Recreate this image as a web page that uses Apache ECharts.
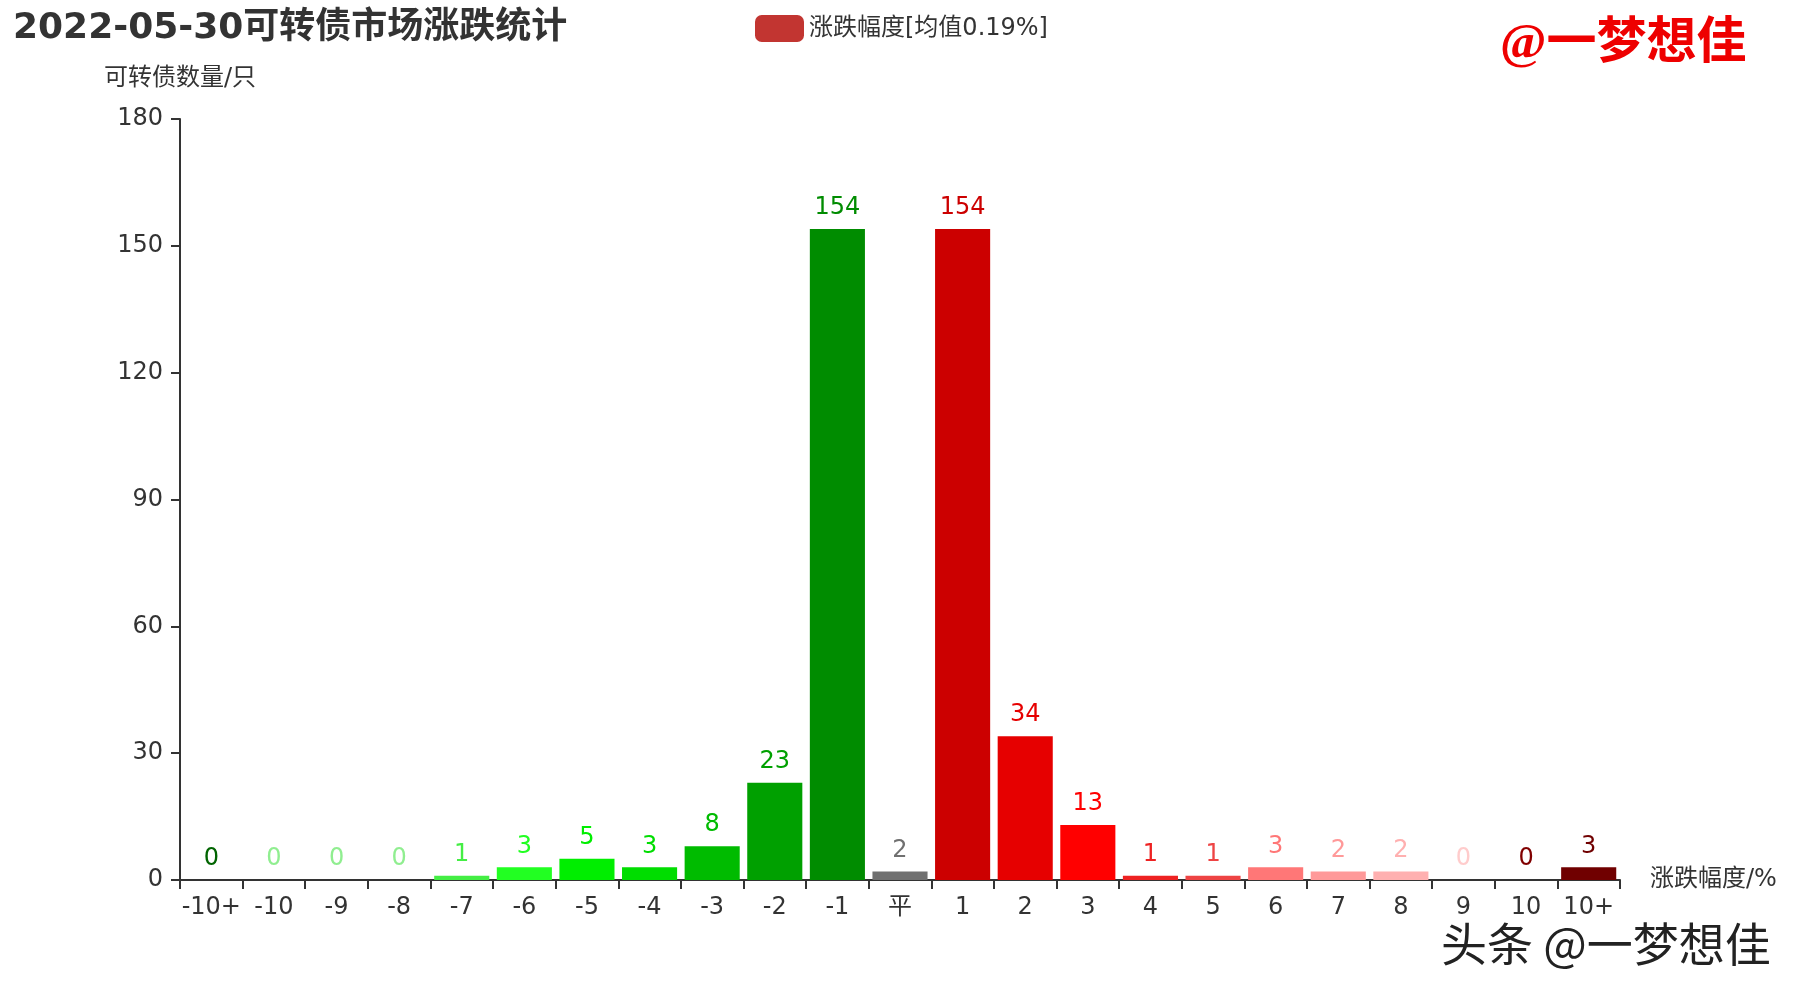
<!DOCTYPE html>
<html>
<head>
<meta charset="utf-8">
<script src="https://cdn.jsdelivr.net/npm/echarts@6/dist/echarts.min.js"></script>
<style>html,body{margin:0;padding:0;background:#fff}#c{width:1800px;height:1000px}</style>
</head>
<body>
<div id="c"></div>
<script>
const categories = ['-10+','-10','-9','-8','-7','-6','-5','-4','-3','-2','-1','平','1','2','3','4','5','6','7','8','9','10','10+'];
const counts = [0,0,0,0,1,3,5,3,8,23,154,2,154,34,13,1,1,3,2,2,0,0,3];
const barColors = ['#006400','#90ee90','#90ee90','#90ee90','#44ee44','#22ff22','#00ee00','#00dd00','#00bb00','#00a000','#008c00','#707070','#cc0000','#e60000','#ff0000','#ee2222','#ee4444','#ff7777','#ff9999','#ffb0b0','#ffcccc','#800000','#700000'];
const yTicks = [0,30,60,90,120,150,180];
const titleText = '2022-05-30可转债市场涨跌统计';
const legendName = '涨跌幅度[均值0.19%]';

const FONT = '"DejaVu Sans", "Noto Sans CJK SC", sans-serif';
const chart = echarts.init(document.getElementById('c'));
chart.setOption({
  animation: false,
  backgroundColor: '#fff',
  title: {
    text: titleText, left: 8, top: 6,
    textStyle: {fontSize: 36, fontWeight: 'bold', color: '#333', fontFamily: FONT}
  },
  legend: {
    data: [legendName], left: 750, top: 10, itemWidth: 49, itemHeight: 27, itemGap: 11,
    icon: 'roundRect',
    textStyle: {fontSize: 24, color: '#333', fontFamily: FONT}
  },
  grid: {left: 180, right: 180, top: 119, bottom: 120},
  xAxis: {
    type: 'category', data: categories,
    name: '涨跌幅度/%', nameLocation: 'end', nameGap: 30,
    nameTextStyle: {fontSize: 24, color: '#333', fontFamily: FONT},
    axisLine: {lineStyle: {color: '#333', width: 2}},
    axisTick: {show: true, length: 9, lineStyle: {color: '#333', width: 2}},
    axisLabel: {interval: 0, fontSize: 24, color: '#333', margin: 16, fontFamily: FONT}
  },
  yAxis: {
    type: 'value', min: yTicks[0], max: yTicks[yTicks.length - 1], interval: 30,
    name: '可转债数量/只', nameLocation: 'end', nameGap: 28,
    nameTextStyle: {fontSize: 24, color: '#333', fontFamily: FONT, align: 'center'},
    axisLine: {show: true, lineStyle: {color: '#333', width: 2}},
    axisTick: {show: true, length: 9, lineStyle: {color: '#333', width: 2}},
    splitLine: {show: false},
    axisLabel: {fontSize: 24, color: '#333', margin: 17, fontFamily: FONT}
  },
  series: [{
    name: legendName, type: 'bar', barCategoryGap: '12%',
    itemStyle: {color: '#c23531'},
    data: counts.map((v, i) => ({
      value: v,
      itemStyle: {color: barColors[i]},
      label: {color: barColors[i]}
    })),
    label: {show: true, position: 'top', distance: 9, fontSize: 24, fontFamily: FONT}
  }],
  graphic: [
    {type: 'text', left: 1500, top: 20, style: {text: '@一梦想佳', font: 'bold 50px "Liberation Serif", "Noto Sans CJK SC", serif', fill: '#ee0000'}},
    {type: 'text', left: 1440, top: 920, style: {text: '头条 @一梦想佳', font: '46px "Noto Sans CJK SC", sans-serif', fill: '#222', stroke: '#fff', lineWidth: 2}}
  ]
});
</script>
</body>
</html>
